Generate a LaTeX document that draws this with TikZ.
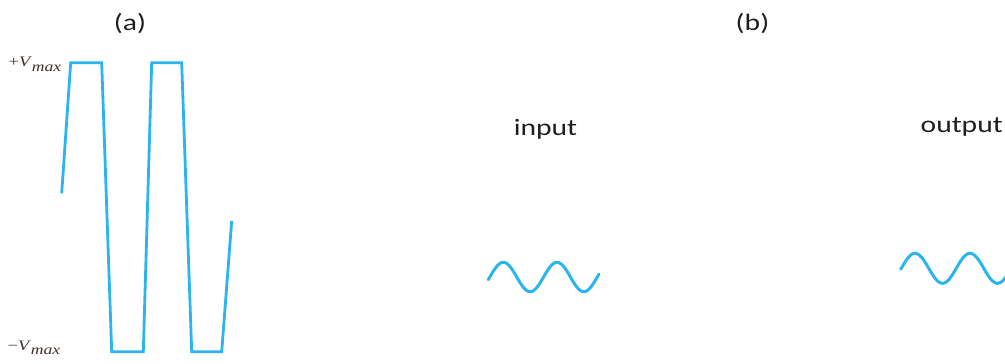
\documentclass[tikz,border=0pt]{standalone}
\usepackage{fontspec}
\setmainfont{Carlito}
\newfontfamily\timesfont{Liberation Serif}
\definecolor{wave}{HTML}{2BB5EC}
\definecolor{lbl}{HTML}{1E1E1E}
\definecolor{vlab}{HTML}{3F3029}
\tikzset{
  waveline/.style={draw=wave, line width=2.8pt, line join=miter},
  sinewave/.style={draw=wave, line width=3pt, line cap=round},
  caption/.style={text=lbl, inner sep=0pt, font=\fontsize{23.5}{26}\selectfont},
  vlabel/.style={text=vlab, inner sep=0pt, font=\timesfont\fontsize{14.5}{16}\selectfont}
}
\newcommand{\wide}[1]{\scalebox{1.26}[1]{#1}}
\begin{document}
\begin{tikzpicture}[x=1pt,y=-1pt]
\useasboundingbox (0,0) rectangle (1005,364);
% labels
\node[caption, anchor=base] (la) at (130,30.7) {\wide{(a)}};
\node[caption, anchor=base] (lb) at (752.5,30.7) {\wide{(b)}};
\node[caption, anchor=base] (in) at (545.5,135) {\wide{input}};
\node[caption, anchor=base] (out) at (961.7,132.3) {\wide{output}};
\node[vlabel, anchor=base west] (vp) at (8.5,66.7) {\wide{+\textit{V}\raisebox{-4.5pt}{\fontsize{14}{15}\selectfont\textit{max}}}};
\node[vlabel, anchor=base west] (vm) at (7.5,350) {\wide{−\textit{V}\raisebox{-4.5pt}{\fontsize{14}{15}\selectfont\textit{max}}}};
% square-ish wave
\draw[waveline] (61.7,193.3) -- (70.7,62.7) -- (101.7,62.7) -- (111.7,351.7)
  -- (143.3,351.7) -- (151.7,62.7) -- (181.7,62.7) -- (191.7,351.7)
  -- (221.7,351.7) -- (231.7,221);
% input sine
\draw[sinewave] plot[domain=488.3:599, samples=120, smooth]
  (\x,{277-14.7*cos(6.7039*(\x-503.3))});
% output sine
\begin{scope}
\clip (0,0) rectangle (1005,364);
\draw[sinewave] plot[domain=900.7:1008, samples=120, smooth]
  (\x,{268.3-15*cos(6.5455*(\x-915))});
\end{scope}
\end{tikzpicture}
\end{document}
